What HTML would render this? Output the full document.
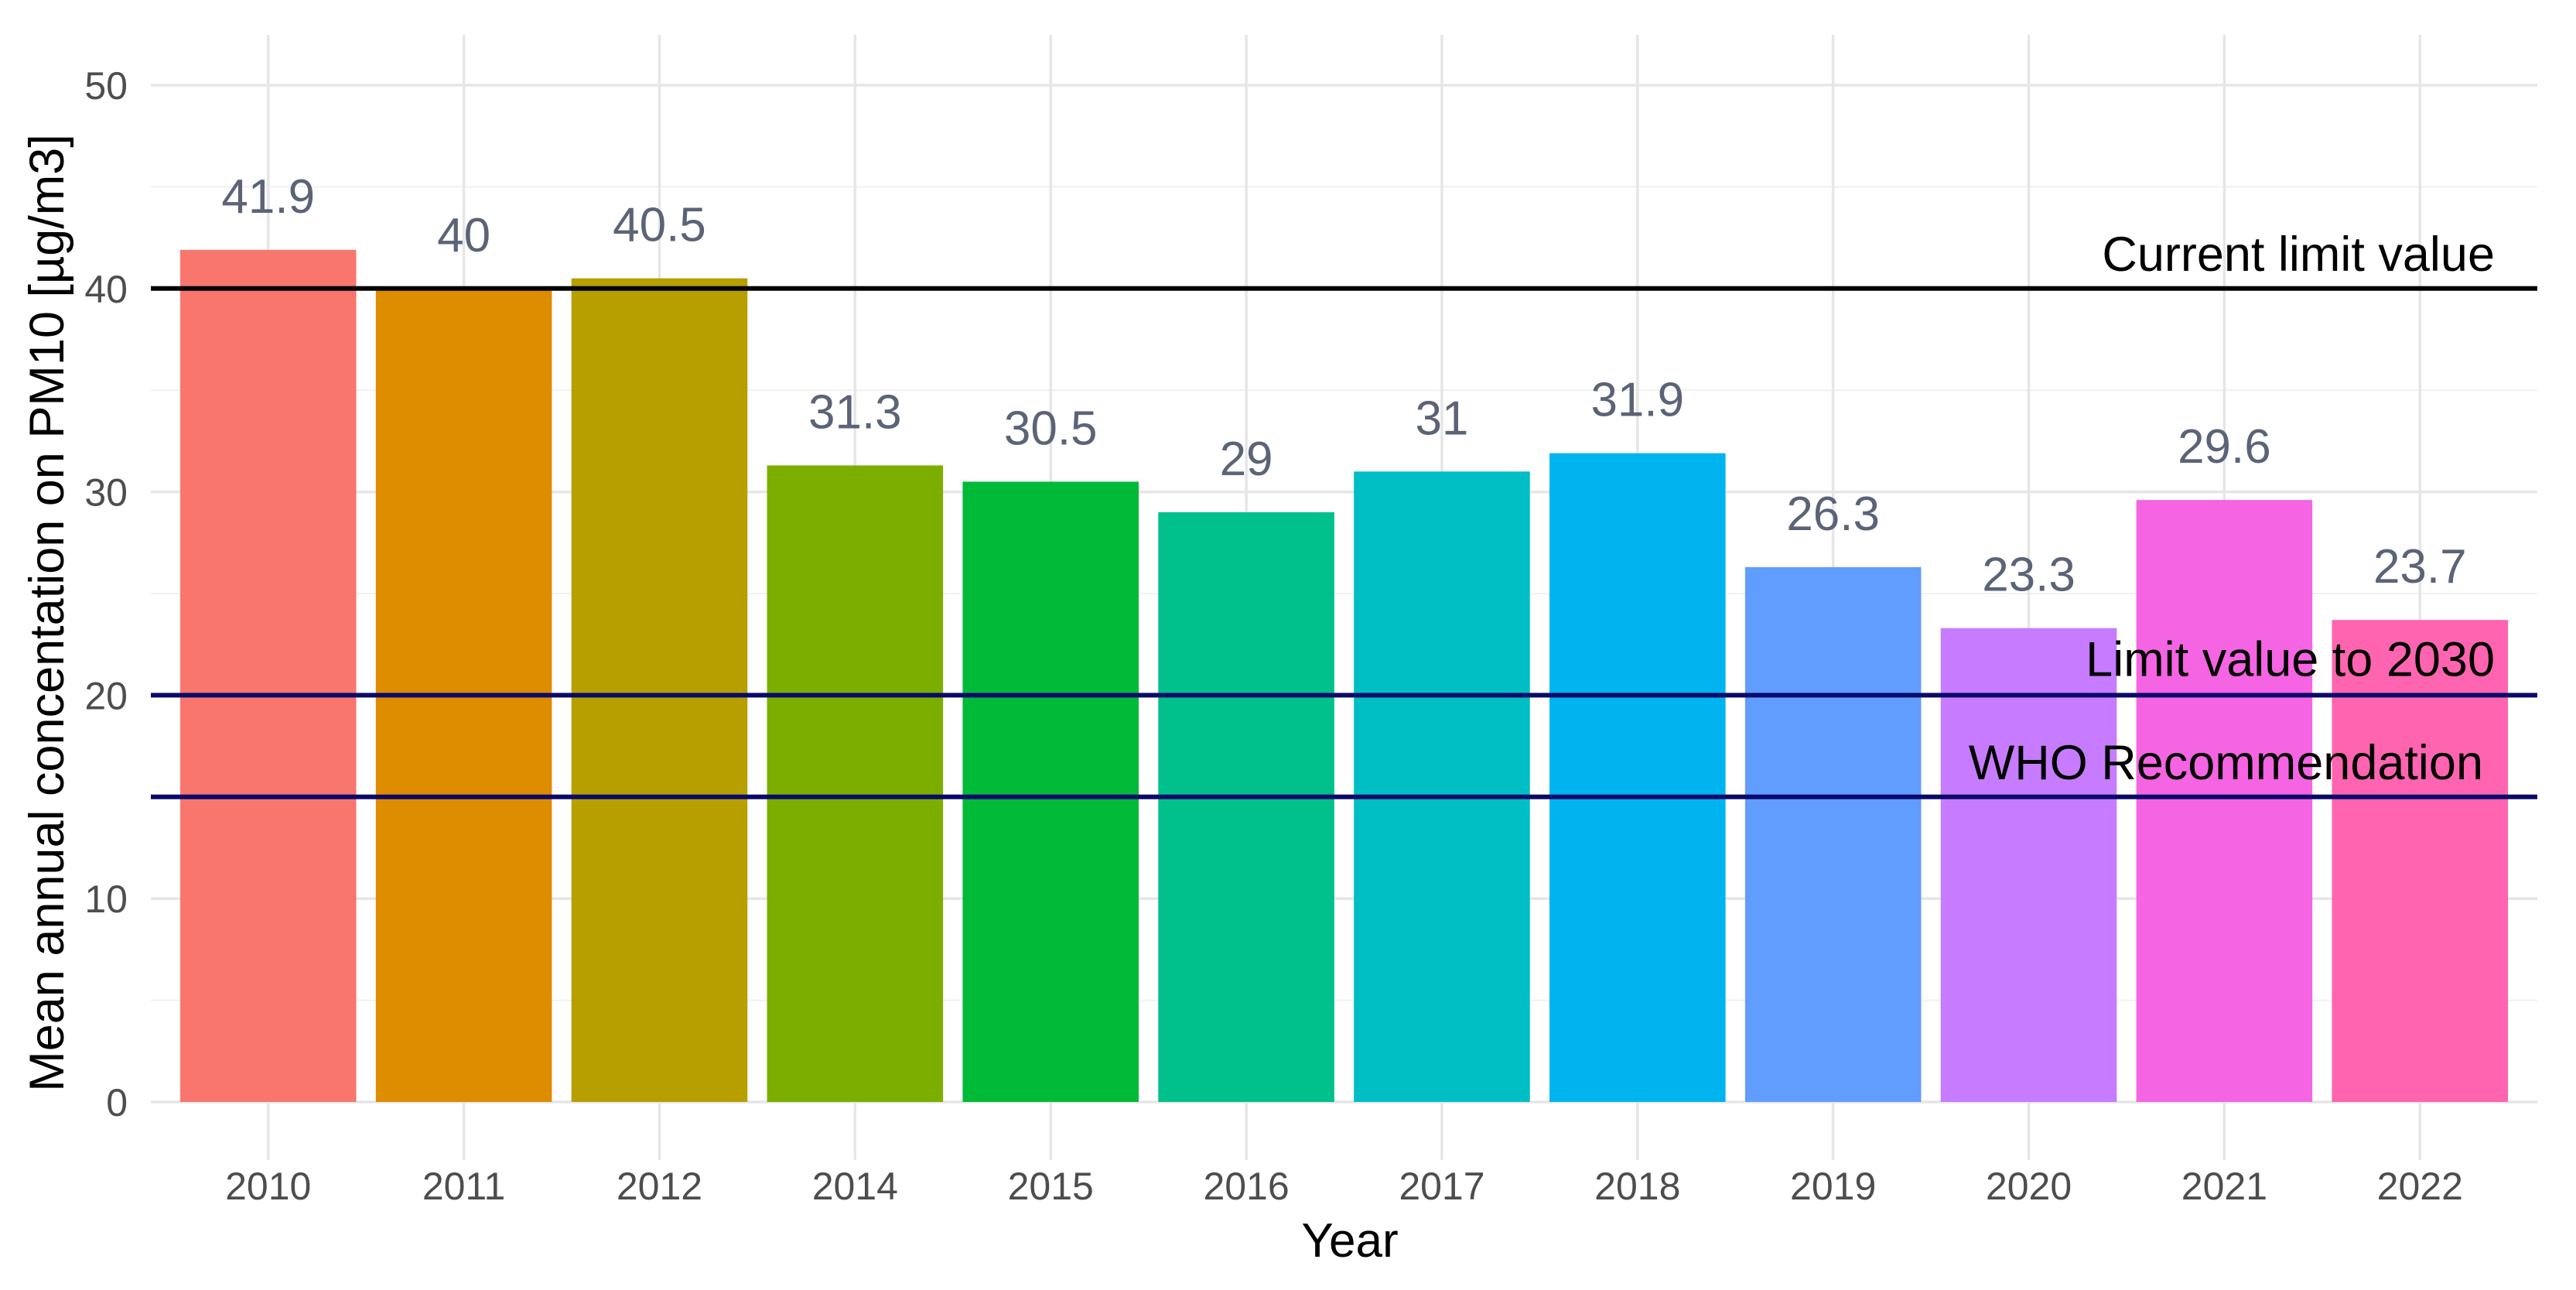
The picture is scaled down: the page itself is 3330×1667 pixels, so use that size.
<!DOCTYPE html>
<html><head><meta charset="utf-8"><style>
html,body{margin:0;padding:0;background:#fff;}
svg{display:block;font-family:"Liberation Sans",Arial,sans-serif;}
</style></head><body>
<svg id="chart" width="3330" height="1667" viewBox="0 0 3330 1667" xmlns="http://www.w3.org/2000/svg">
<g id="grid"></g>
<g id="bars"></g>
<g id="refs"></g>
<g id="labels"></g>
<g id="axes"></g>
<text x="1745" y="1624" font-size="62" text-anchor="middle" fill="#000">Year</text>
<text transform="translate(82,792) rotate(-90)" font-size="63" text-anchor="middle" fill="#000">Mean annual concentation on PM10 [µg/m3]</text>
</svg>
<script>
const categories = ["2010","2011","2012","2014","2015","2016","2017","2018","2019","2020","2021","2022"];
const values = [41.9,40,40.5,31.3,30.5,29,31,31.9,26.3,23.3,29.6,23.7];
const valueLabels = ["41.9","40","40.5","31.3","30.5","29","31","31.9","26.3","23.3","29.6","23.7"];
const barColors = ["#F8766D","#DE8C00","#B79F00","#7CAE00","#00BA38","#00C08B","#00BFC4","#00B4F0","#619CFF","#C77CFF","#F564E3","#FF64B0"];
const yTicks = [0,10,20,30,40,50];
const yMinor = [5,15,25,35,45];
const refValues = [40,20,15];
const refLabels = ["Current limit value","Limit value to 2030","WHO Recommendation"];
const refColors = ["#000000","#0a0a6a","#0a0a6a"];

const NS="http://www.w3.org/2000/svg";
const plotL=195, plotR=3280, y0=1424, y50=110;
const band=(plotR-plotL)/(categories.length+0.2);
function xc(i){return plotL+band*(0.6+i);}
function y(v){return y0-(v/50)*(y0-y50);}
function mk(tag,attrs,parent){const e=document.createElementNS(NS,tag);for(const k in attrs)e.setAttribute(k,attrs[k]);parent.appendChild(e);return e;}
const grid=document.getElementById('grid'),bars=document.getElementById('bars'),refs=document.getElementById('refs'),labels=document.getElementById('labels'),axes=document.getElementById('axes');

yMinor.forEach(v=>{const l=mk('line',{x1:plotL,x2:plotR,y1:y(v),y2:y(v),stroke:'#f0f0f0','stroke-width':2},grid);

});
yTicks.forEach(v=>{const l=mk('line',{x1:plotL,x2:plotR,y1:y(v),y2:y(v),stroke:'#e6e6e6','stroke-width':3.5},grid);


const t=mk('text',{x:165,y:y(v)+18,'font-size':50,'text-anchor':'end',fill:'#4d4d4d'},axes);t.textContent=v;

});
categories.forEach((c,i)=>{const l=mk('line',{x1:xc(i),x2:xc(i),y1:45,y2:y(0)+75,stroke:'#e6e6e6','stroke-width':3.5},grid);


const t=mk('text',{x:xc(i),y:1550,'font-size':50,'text-anchor':'middle',fill:'#4d4d4d'},axes);t.textContent=c;


const w=band*0.9;
const r=mk('rect',{x:xc(i)-w/2,y:y(values[i]),width:w,height:y(0)-y(values[i]),fill:barColors[i]},bars);


const vl=mk('text',{x:xc(i),y:y(values[i])-48,'font-size':62,'text-anchor':'middle',fill:'#5b6377'},labels);vl.textContent=valueLabels[i];

});
const refOff=[-23,-25,-23];
const refRight=[3225,3225,3210];
refValues.forEach((v,i)=>{const l=mk('line',{x1:plotL,x2:plotR,y1:y(v),y2:y(v),stroke:refColors[i],'stroke-width':6},refs);


const t=mk('text',{x:refRight[i],y:y(v)+refOff[i],'font-size':63,'text-anchor':'end',fill:'#000'},refs);t.textContent=refLabels[i];

});
</script>
</body></html>
